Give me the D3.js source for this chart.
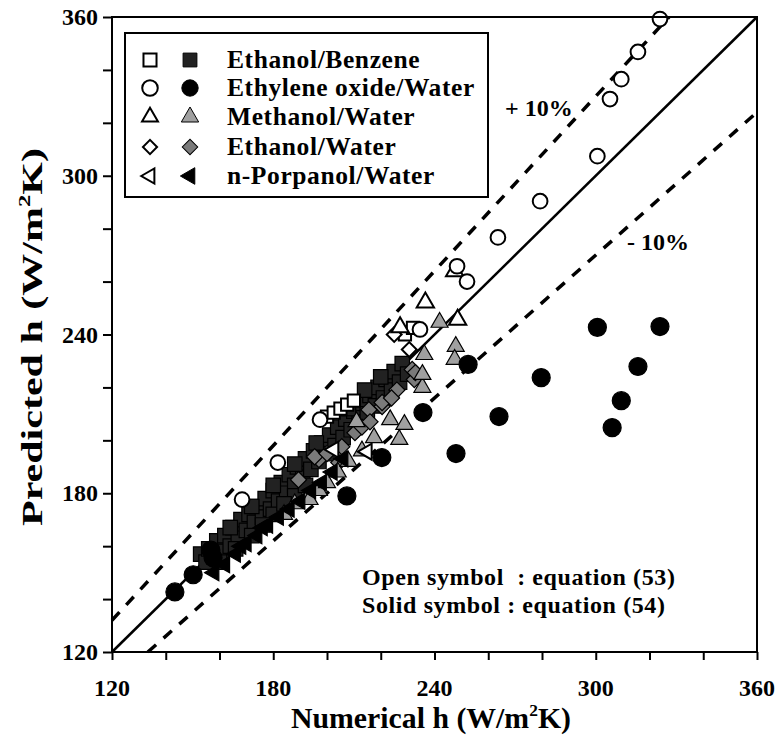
<!DOCTYPE html>
<html>
<head>
<meta charset="utf-8">
<script src="https://cdn.jsdelivr.net/npm/d3@7"></script>
<style>
  body { margin: 0; background: #fff; }
  text { font-family: "Liberation Serif", "Times New Roman", serif; font-weight: bold; }
</style>
</head>
<body>
<svg id="chart" width="780" height="738"></svg>
<script>
// Axis ticks (W/m2K)
const majorTicks = [120, 180, 240, 300, 360];
const minorTicks = [120, 140, 160, 180, 200, 220, 240, 260, 280, 300, 320, 340, 360];

// Legend entries
const seriesNames = ["Ethanol/Benzene", "Ethylene oxide/Water", "Methanol/Water", "Ethanol/Water", "n-Porpanol/Water"];

// [numerical h, predicted h] pairs; "open" = equation (53), "solid" = equation (54)
const benzeneSolid = [
  [153,157],[155,154],[156,159],[158,156],[159,162],[161,158],[162,164],[164,160],[165,167],[167,163],
  [168,170],[170,166],[171,172],[173,169],[174,175],[176,171],[177,178],[179,174],[180,181],[182,177],
  [183,184],[185,180],[186,187],[188,183],[189,190],[191,186],[192,193],[194,189],[195,196],[197,192],
  [198,199],[200,195],[201,202],[203,198],[204,205],[206,201],[207,208],[209,204],[210,211],[212,207],
  [213,214],[215,210],[216,217],[218,213],[219,220],[221,216],[222,223],[224,219],[225,226],[227,222],
  [228,229],[230,225],[220,224],[214,219],[208,212],[196,199],[188,191],[180,183],[172,175],[164,167],
  [172,164],[180,172],[188,179],[160,154],[166,159],[176,168],[184,176],[192,183]
];
const benzeneOpen = [[200,209],[202.5,210.5],[205,212],[207.5,213.5],[210,215],[229,240],[232,242.5]];

const oxideSolid = [
  [300.6,242.7],[323.9,243],[315.7,227.9],[309.5,215],[306.1,204.8],[279.7,223.7],[264,209],
  [252.5,228.7],[248,195],[235.7,210.5],[220.4,193.5],[207.4,179],[157.6,155.6],[156.8,158.5],
  [150.2,149.2],[143.4,142.7]
];
const oxideOpen = [
  [323.9,359.2],[315.7,346.8],[309.5,336.5],[305.3,329],[300.6,307.4],[279.3,290.4],[263.6,276.7],
  [252.1,260],[248.4,265.8],[234.6,241.9],[197.4,207.8],[181.7,191.6],[168.4,177.6]
];

const methanolSolid = [
  [184,172],[188,176],[193.5,177.6],[197,181],[200,184],[204,188],[208,192],[213,196],[217.5,201],
  [223.5,207.8],[228.8,206],[226.9,200.3],[211,207],[235.5,220],[235.5,224.9],[236.2,232.4],
  [247.9,235.5],[247.5,230.6],[241.9,244.6]
];
const methanolOpen = [[227.2,242.7],[236.6,252.1],[248.6,245.6],[247.5,263.9]];

const ethanolSolid = [
  [231.7,226.8],[232.5,223],[220.5,212.8],[204.4,191.6],[197,192.7],[205.5,197.6],[210.4,202.9],
  [215.6,211.6],[220.5,214.3],[232.9,225.6],[195.4,193.8],[189.4,185.1],[226,219],[213,205],
  [200,195],[216,207],[224,216]
];
const ethanolOpen = [[230.6,234.3],[225,240]];

const propanolSolid = [
  [158,150],[162,153],[166,157],[170,161],[174,164],[178,168],[182,171],[186,174],[190,177],
  [194,181],[198,184],[202,188],[206,193],[176,167],[168,160]
];
const propanolOpen = [[202.5,196.5],[214.9,195.7]];

const svg = d3.select("#chart");
const plotLeft = 112, plotRight = 757, plotTop = 17, plotBottom = 652;

const x = d3.scaleLinear().domain([120, 360]).range([plotLeft, plotRight]);
const y = d3.scaleLinear().domain([120, 360]).range([plotBottom, plotTop]);

// Left-pointing triangle symbol
const leftTri = { draw(ctx, size) {
  const s = Math.sqrt(size * 4 / Math.sqrt(3));
  const h = s * Math.sqrt(3) / 2;
  ctx.moveTo(-h * 2 / 3, 0);
  ctx.lineTo(h / 3, -s / 2);
  ctx.lineTo(h / 3, s / 2);
  ctx.closePath();
}};

const styles = {
  benzene:  { type: d3.symbolSquare,   size: 210, rot: 0,  fill: "#222" },
  oxide:    { type: d3.symbolCircle,   size: 255, rot: 0,  fill: "#000" },
  methanol: { type: d3.symbolTriangle, size: 125, rot: 0,  fill: "#a0a0a0" },
  ethanol:  { type: d3.symbolSquare,   size: 130, rot: 45, fill: "#7a7a7a" },
  propanol: { type: leftTri,           size: 115, rot: 0,  fill: "#000" }
};

function drawSet(data, st, open, openSize) {
  const g = svg.append("g");
  g.selectAll("path").data(data).join("path")
    .attr("d", d3.symbol().type(st.type).size(open && openSize ? openSize : st.size))
    .attr("transform", d => `translate(${x(d[0])},${y(d[1])}) rotate(${st.rot})`)
    .attr("fill", open ? "#fff" : st.fill)
    .attr("stroke", "#000")
    .attr("stroke-width", open ? 2 : 1.2);
}

// Reference lines: y = x and +/-10 %
const lineGen = d3.line().x(d => x(d[0])).y(d => y(d[1]));
svg.append("path").attr("d", lineGen([[120, 120], [360, 360]]))
  .attr("stroke", "#000").attr("stroke-width", 2.5).attr("fill", "none");
svg.append("path").attr("d", lineGen([[120, 132], [360 / 1.1, 360]]))
  .attr("stroke", "#000").attr("stroke-width", 3.5).attr("fill", "none")
  .attr("stroke-dasharray", "11,10");
svg.append("path").attr("d", lineGen([[120 / 0.9, 120], [360, 324]]))
  .attr("stroke", "#000").attr("stroke-width", 3.5).attr("fill", "none")
  .attr("stroke-dasharray", "11,10");

// Data points
drawSet(benzeneSolid, styles.benzene, false);
drawSet(ethanolSolid, styles.ethanol, false);
drawSet(methanolSolid, styles.methanol, false);
drawSet(propanolSolid, styles.propanol, false);
drawSet(oxideSolid, styles.oxide, false);
drawSet(benzeneOpen, styles.benzene, true, 150);
drawSet(ethanolOpen, styles.ethanol, true, 110);
drawSet(methanolOpen, styles.methanol, true, 130);
drawSet(propanolOpen, styles.propanol, true, 110);
drawSet(oxideOpen, styles.oxide, true, 170);

// Frame and axes
svg.append("rect").attr("x", plotLeft).attr("y", plotTop)
  .attr("width", plotRight - plotLeft).attr("height", plotBottom - plotTop)
  .attr("fill", "none").attr("stroke", "#000").attr("stroke-width", 2);

const xAxis = svg.append("g").attr("transform", `translate(0,${plotBottom})`)
  .call(d3.axisBottom(x).tickValues(minorTicks).tickSize(8).tickFormat(""));
const yAxis = svg.append("g").attr("transform", `translate(${plotLeft},0)`)
  .call(d3.axisLeft(y).tickValues(minorTicks).tickSize(9).tickFormat(""));
[xAxis, yAxis].forEach(a => {
  a.select(".domain").remove();
  a.selectAll("line").attr("stroke", "#000").attr("stroke-width", 2);
});

svg.append("g").selectAll("text").data(majorTicks).join("text")
  .attr("x", d => x(d)).attr("y", plotBottom + 44)
  .attr("text-anchor", "middle").attr("font-size", 24).text(d => d);
svg.append("g").selectAll("text").data(majorTicks).join("text")
  .attr("x", plotLeft - 14).attr("y", d => y(d) + 8)
  .attr("text-anchor", "end").attr("font-size", 24).text(d => d);

// Axis titles
const xt = svg.append("text").attr("x", 431).attr("y", 728)
  .attr("text-anchor", "middle").attr("font-size", 29)
  .attr("textLength", 280).attr("lengthAdjust", "spacingAndGlyphs");
xt.append("tspan").text("Numerical h (W/m");
xt.append("tspan").attr("font-size", 17).attr("dy", -12).text("2");
xt.append("tspan").attr("dy", 12).text("K)");

const yt = svg.append("text").attr("transform", "translate(42,337) rotate(-90)")
  .attr("text-anchor", "middle").attr("font-size", 29)
  .attr("textLength", 378).attr("lengthAdjust", "spacingAndGlyphs");
yt.append("tspan").text("Predicted h (W/m");
yt.append("tspan").attr("font-size", 17).attr("dy", -12).text("2");
yt.append("tspan").attr("dy", 12).text("K)");

// Annotations
svg.append("text").attr("x", 505).attr("y", 116).attr("font-size", 24).text("+ 10%");
svg.append("text").attr("x", 627).attr("y", 250).attr("font-size", 24).text("- 10%");
svg.append("text").attr("x", 362).attr("y", 585).attr("font-size", 24)
  .attr("letter-spacing", 0.6).attr("xml:space", "preserve")
  .text("Open symbol  : equation (53)");
svg.append("text").attr("x", 362).attr("y", 613).attr("font-size", 24)
  .attr("letter-spacing", 0.6).text("Solid symbol : equation (54)");

// Legend
const legend = svg.append("g");
legend.append("rect").attr("x", 125).attr("y", 33).attr("width", 363).attr("height", 164)
  .attr("fill", "#fff").attr("stroke", "#000").attr("stroke-width", 2);
const legendKeys = ["benzene", "oxide", "methanol", "ethanol", "propanol"];
const legendOpenSize = { benzene: 170, oxide: 190, methanol: 110, ethanol: 100, propanol: 100 };
const rowY = [60, 88, 117, 147, 176];
legendKeys.forEach((k, i) => {
  const st = styles[k];
  const sym = d3.symbol().type(st.type);
  legend.append("path").attr("d", sym.size(legendOpenSize[k])())
    .attr("transform", `translate(150,${rowY[i]}) rotate(${st.rot})`)
    .attr("fill", "#fff").attr("stroke", "#000").attr("stroke-width", 2);
  legend.append("path").attr("d", sym.size(legendOpenSize[k] + 20)())
    .attr("transform", `translate(190,${rowY[i]}) rotate(${st.rot})`)
    .attr("fill", st.fill).attr("stroke", "#000").attr("stroke-width", 1);
  legend.append("text").attr("x", 227).attr("y", rowY[i] + 8)
    .attr("font-size", 25.5).attr("letter-spacing", 0.6).text(seriesNames[i]);
});
</script>
</body>
</html>
